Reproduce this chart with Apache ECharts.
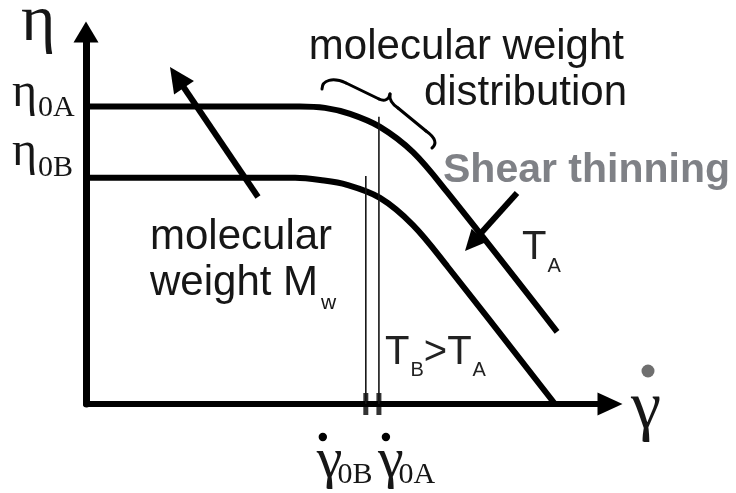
<!DOCTYPE html>
<html>
<head>
<meta charset="utf-8">
<script src="https://cdn.jsdelivr.net/npm/echarts@6/dist/echarts.min.js"></script>
<style>
  html, body { margin: 0; padding: 0; background: #fff; }
  #chart { width: 736px; height: 493px; }
</style>
</head>
<body>
<div id="chart"></div>
<script>
// Flow curves: log viscosity vs log shear rate (schematic units)
const curveA_x = [0, 4.08, 4.56, 5.04, 5.61, 6.24, 6.89, 8.99];
const curveA_y = [8.0, 8.0, 7.96, 7.80, 7.45, 6.77, 5.70, 1.94];
const curveB_x = [0, 3.99, 4.47, 4.98, 5.61, 6.24, 6.89, 8.95];
const curveB_y = [6.08, 6.08, 6.02, 5.89, 5.54, 4.81, 3.71, 0];

// zero-shear viscosities and onset shear rates
const eta0 = { A: 8.0, B: 6.08 };
const gamma0 = { A: 5.59, B: 5.34 };
const gammaGuideTop = { A: 7.72, B: 6.13 };

const zip = (xs, ys) => xs.map((x, i) => [x, ys[i]]);
const BLACK = '#000';
const INK = '#161616';

const chart = echarts.init(document.getElementById('chart'), null, { renderer: 'canvas' });

const hiddenAxisParts = {
  axisTick: { show: false },
  axisLabel: { show: false },
  splitLine: { show: false }
};

chart.setOption({
  animation: false,
  backgroundColor: '#fff',
  grid: { left: 86, right: 126, top: 32, bottom: 89 },
  xAxis: Object.assign({
    type: 'value', min: 0, max: 10,
    axisLine: { show: true, symbol: ['none', 'triangle'], symbolSize: [23, 25],
      lineStyle: { color: BLACK, width: 6 } }
  }, hiddenAxisParts),
  yAxis: Object.assign({
    type: 'value', min: 0, max: 10,
    axisLine: { show: true, symbol: ['none', 'triangle'], symbolSize: [25, 21],
      lineStyle: { color: BLACK, width: 7 } }
  }, hiddenAxisParts),
  series: [
    { name: 'T_A', type: 'line', data: zip(curveA_x, curveA_y), smooth: 0.35, symbol: 'none',
      clip: false, lineStyle: { color: BLACK, width: 6 } },
    { name: 'T_B', type: 'line', data: zip(curveB_x, curveB_y), smooth: 0.35, symbol: 'none',
      clip: false, lineStyle: { color: BLACK, width: 6 } },
    { name: 'gamma0B', type: 'line', data: [[gamma0.B, 0], [gamma0.B, gammaGuideTop.B]], symbol: 'none',
      lineStyle: { color: INK, width: 1.6 } },
    { name: 'gamma0A', type: 'line', data: [[gamma0.A, 0], [gamma0.A, gammaGuideTop.A]], symbol: 'none',
      lineStyle: { color: INK, width: 1.6 } },
    { name: 'ticks', type: 'scatter', data: [[gamma0.B, 0], [gamma0.A, 0]], symbol: 'rect',
      symbolSize: [5, 22], clip: false, itemStyle: { color: BLACK } }
  ]
});

// ---- annotations ----
const px = (x, y) => chart.convertToPixel({ gridIndex: 0 }, [x, y]);
const measureCtx = document.createElement('canvas').getContext('2d');
function textWidth(t, font) { measureCtx.font = font; return measureCtx.measureText(t).width; }

const SANS = '"Liberation Sans", Arial, sans-serif';
const SERIF = '"Liberation Serif", "Times New Roman", serif';

// a run of text pieces sharing one baseline; pieces may drop (subscripts)
function textRun(x, baseline, pieces, family, color, weight, alignRight) {
  const k = family === SERIF ? 0.338 : 0.347;
  const fonts = pieces.map(p => `${weight || 'normal'} ${p.size}px ${family}`);
  const widths = pieces.map((p, i) => textWidth(p.t, fonts[i]) + (p.gap || 0));
  let cx = alignRight ? x - widths.reduce((a, b) => a + b, 0) : x;
  return pieces.map((p, i) => {
    const el = {
      type: 'text', silent: true,
      x: cx + (p.gap || 0), y: baseline + (p.dy || 0) - k * p.size,
      style: { text: p.t, font: fonts[i], fill: p.color || color, align: 'left', verticalAlign: 'middle' }
    };
    cx += widths[i];
    return el;
  });
}

function arrow(p0, p1, w, headLen, headW, color) {
  const dx = p1[0] - p0[0], dy = p1[1] - p0[1], L = Math.hypot(dx, dy);
  const ux = dx / L, uy = dy / L, nx = -uy, ny = ux;
  const bx = p1[0] - ux * headLen, by = p1[1] - uy * headLen;
  return [
    { type: 'line', silent: true, shape: { x1: p0[0], y1: p0[1], x2: bx + ux * 3, y2: by + uy * 3 },
      style: { stroke: color, lineWidth: w } },
    { type: 'polygon', silent: true,
      shape: { points: [[p1[0], p1[1]], [bx + nx * headW / 2, by + ny * headW / 2], [bx - nx * headW / 2, by - ny * headW / 2]] },
      style: { fill: color } }
  ];
}

function bez(a, c1, c2, b, w) {
  return { type: 'bezierCurve', silent: true,
    shape: { x1: a[0], y1: a[1], cpx1: c1[0], cpy1: c1[1], cpx2: c2[0], cpy2: c2[1], x2: b[0], y2: b[1] },
    style: { stroke: BLACK, lineWidth: w, fill: null, lineCap: 'round' } };
}
function seg(a, b, w) {
  return { type: 'line', silent: true, shape: { x1: a[0], y1: a[1], x2: b[0], y2: b[1] },
    style: { stroke: BLACK, lineWidth: w, lineCap: 'round' } };
}

const g = [];
const pA = px(0, eta0.A), pB = px(0, eta0.B);
const gA = px(gamma0.A, 0), gB = px(gamma0.B, 0);

// axis titles
g.push(...textRun(21, 45, [{ t: 'η', size: 66 }], SERIF, INK));
const gx = 631;
g.push(...textRun(gx, 433, [{ t: 'γ', size: 68 }], SERIF, INK));
g.push({ type: 'circle', silent: true, shape: { cx: gx + 17, cy: 371, r: 6.5 }, style: { fill: '#6f6f6f' } });

// zero-shear viscosity labels
g.push(...textRun(12, pA[1] + 3, [{ t: 'η', size: 48 }, { t: '0A', size: 30, dy: 9, gap: 1 }], SERIF, INK));
g.push(...textRun(12, pB[1] - 9, [{ t: 'η', size: 48 }, { t: '0B', size: 30, dy: 9, gap: 1 }], SERIF, INK));

// onset shear rate labels
g.push(...textRun(gB[0] - 49, 481, [{ t: 'γ', size: 58 }, { t: '0B', size: 30, dy: 4, gap: -5 }], SERIF, INK));
g.push({ type: 'circle', silent: true, shape: { cx: gB[0] - 43, cy: 437, r: 4.2 }, style: { fill: BLACK } });
g.push(...textRun(gA[0] - 1, 481, [{ t: 'γ', size: 58 }, { t: '0A', size: 30, dy: 4, gap: -5 }], SERIF, INK));
g.push({ type: 'circle', silent: true, shape: { cx: gA[0] + 7, cy: 437, r: 4.2 }, style: { fill: BLACK } });

// text blocks
g.push(...textRun(624, 62, [{ t: 'molecular weight', size: 42 }], SANS, INK, 'normal', true));
g.push(...textRun(627, 108, [{ t: 'distribution', size: 42 }], SANS, INK, 'normal', true));
g.push(...textRun(443, 185, [{ t: 'Shear thinning', size: 41 }], SANS, '#7f8186', 'bold'));
g.push(...textRun(150, 252, [{ t: 'molecular', size: 42 }], SANS, INK));
g.push(...textRun(150, 298, [{ t: 'weight M', size: 42 }, { t: 'w', size: 21, dy: 12, gap: 3 }], SANS, INK));
g.push(...textRun(522, 262, [{ t: 'T', size: 40 }, { t: 'A', size: 20, dy: 11, gap: 1 }], SANS, '#222'));
g.push(...textRun(385, 367, [
  { t: 'T', size: 40 }, { t: 'B', size: 20, dy: 10, gap: 1 },
  { t: '>', size: 40, gap: 0 }, { t: 'T', size: 40 }, { t: 'A', size: 20, dy: 10, gap: 1 }
], SANS, '#222'));

// arrows
g.push(...arrow([258, 197], [170, 67], 6, 25, 24, BLACK));
g.push(...arrow([517, 193], [465, 251], 6, 21, 20, BLACK));

// brace over the distribution region of curve A
const bw = 3;
g.push(bez([322, 89], [322, 80], [333, 77], [346, 83], bw));
g.push(seg([346, 83], [379, 99], bw));
g.push(bez([379, 99], [385, 102], [389, 99], [390, 94], bw));
g.push(bez([390, 94], [389, 100], [392, 104], [398, 108], bw));
g.push(seg([398, 108], [426, 131], bw));
g.push(bez([426, 131], [436, 138], [437, 144], [432, 148], bw));

chart.setOption({ graphic: { elements: g } });
</script>
</body>
</html>
